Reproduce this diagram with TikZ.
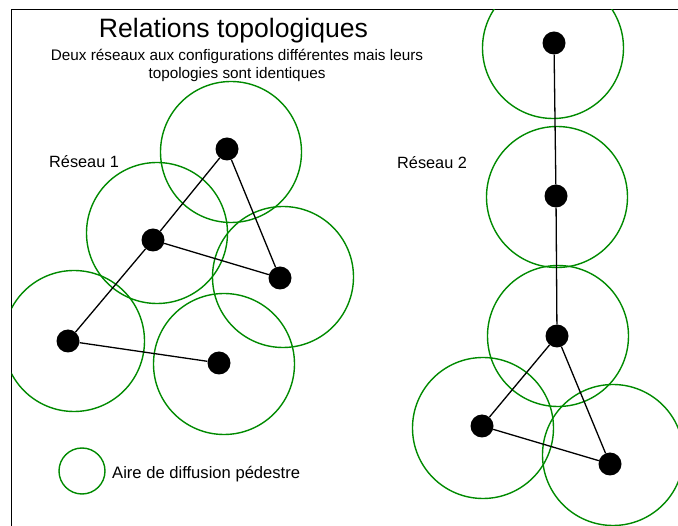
\documentclass[tikz,border=0pt]{standalone}
\usepackage{fontspec}
\setmainfont{Liberation Sans}
\usepackage{tikz}
\usepackage{xcolor}
\definecolor{Zone}{HTML}{008A00}

\begin{document}
\begin{tikzpicture}[x=1pt, y=-1pt,
  zone/.style={Zone, line width=1.4pt},
  dot/.style={circle, fill=black, minimum size=23pt, inner sep=0pt},
  link/.style={line width=1.3pt}]
  \useasboundingbox (0,0) rectangle (678,526);
  % frame
  \draw[line width=1.3pt] (11.5,526) -- (11.5,9.5) -- (678,9.5);
  % diffusion areas
  \begin{scope}
    \clip (11.5,9.5) rectangle (678,526);
    \foreach \x/\y in {231/152, 157/233, 283/277, 74/341, 224/364,
                       553/48, 557/197, 558/336, 483/428, 613/455} {
      \draw[zone] (\x,\y) circle (70.5);
    }
  \end{scope}
  % network 1
  \node[dot] (a1) at (227,149) {};
  \node[dot] (b1) at (153,240) {};
  \node[dot] (c1) at (280,278) {};
  \node[dot] (d1) at (68,341) {};
  \node[dot] (e1) at (219,363) {};
  \draw[link] (a1) -- (b1) -- (d1) -- (e1);
  \draw[link] (a1) -- (c1) -- (b1);
  % network 2
  \node[dot] (f2) at (554,43) {};
  \node[dot] (g2) at (556,196) {};
  \node[dot] (h2) at (557,336) {};
  \node[dot] (i2) at (482,426) {};
  \node[dot] (j2) at (610,464) {};
  \draw[link] (f2) -- (g2) -- (h2) -- (i2) -- (j2) -- (h2);
  % texts
  \node[anchor=base, font=\fontsize{26.6}{30}\selectfont] (title) at (233.5,38) {Relations topologiques};
  \node[align=center, font=\fontsize{15.3}{17.5}\selectfont] (sub) at (237,65.5)
    {Deux réseaux aux configurations différentes mais leurs\\topologies sont identiques};
  \node[anchor=base west, font=\fontsize{16.3}{19}\selectfont, inner sep=0pt] (net1) at (49,168) {Réseau 1};
  \node[anchor=base west, font=\fontsize{16.3}{19}\selectfont, inner sep=0pt] (net2) at (397,169) {Réseau 2};
  % legend
  \draw[zone] (82,471) circle (23);
  \node[anchor=base west, font=\fontsize{16.6}{19}\selectfont, inner sep=0pt] (leg) at (112,479) {Aire de diffusion pédestre};
\end{tikzpicture}
\end{document}
